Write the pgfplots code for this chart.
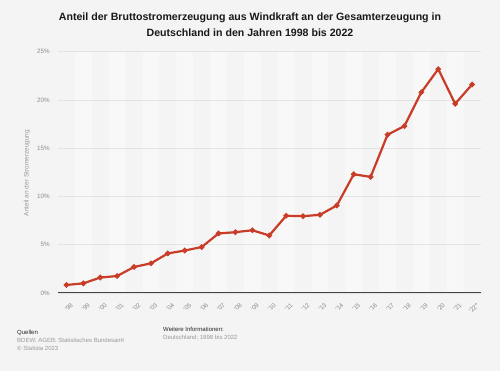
\documentclass[border=0pt]{standalone}
\usepackage{fontspec}
\setmainfont{Liberation Sans}
\usepackage{pgfplots}
\pgfplotsset{compat=1.18}
\definecolor{bgcol}{HTML}{F4F4F4}
\definecolor{bandcol}{HTML}{F8F8F8}
\definecolor{gridcol}{HTML}{E3E3E3}
\definecolor{linecol}{HTML}{C83C28}
\definecolor{axiscol}{HTML}{444444}
\definecolor{ticktext}{HTML}{8C8C8C}
\definecolor{foottext}{HTML}{999999}
\pagecolor{bgcol}
\begin{document}
\begin{tikzpicture}
\path (0pt,0pt) rectangle (500pt,371pt);
\node[anchor=base, inner sep=0pt, font=\bfseries\fontsize{10.6}{12}\selectfont, text=black!90] at (250pt,350.5pt) {Anteil der Bruttostromerzeugung aus Windkraft an der Gesamterzeugung in};
\node[anchor=base, inner sep=0pt, font=\bfseries\fontsize{10.6}{12}\selectfont, text=black!90] at (250pt,334.5pt) {Deutschland in den Jahren 1998 bis 2022};
\node[rotate=90, inner sep=0pt, font=\fontsize{6.5}{7}\selectfont, text=foottext] at (27pt,198pt) {Anteil an der Stromerzeugung};
\node[anchor=base west, inner sep=0pt, font=\fontsize{6}{7}\selectfont, text=black!85] at (17pt,36.5pt) {Quellen};
\node[anchor=base west, inner sep=0pt, font=\fontsize{6}{7}\selectfont, text=foottext] at (17pt,28pt) {BDEW; AGEB; Statistisches Bundesamt};
\node[anchor=base west, inner sep=0pt, font=\fontsize{6}{7}\selectfont, text=foottext] at (17pt,20pt) {\textcopyright{} Statista 2023};
\node[anchor=base west, inner sep=0pt, font=\fontsize{6}{7}\selectfont, text=black!85] at (163pt,39pt) {Weitere Informationen:};
\node[anchor=base west, inner sep=0pt, font=\fontsize{6}{7}\selectfont, text=foottext] at (163pt,31pt) {Deutschland; 1998 bis 2022};
\begin{axis}[
  set layers,
  at={(58pt,78pt)}, anchor=south west,
  width=422.5pt, height=241.3pt, scale only axis,
  xmin=-0.5, xmax=24.5, ymin=0, ymax=25,
  axis line style={draw=none},
  major tick length=0pt,
  ytick={0,5,10,15,20,25},
  yticklabels={0\%,5\%,10\%,15\%,20\%,25\%},
  ymajorgrids, grid style={gridcol, line width=0.7pt},
  xtick={0,...,24},
  xticklabels={'98,'99,'00,'01,'02,'03,'04,'05,'06,'07,'08,'09,'10,'11,'12,'13,'14,'15,'16,'17,'18,'19,'20,'21,'22*},
  xticklabel style={rotate=45, anchor=north east, font=\fontsize{6.3}{7}\selectfont, text=ticktext, xshift=-3.5pt, yshift=-9pt, inner sep=0.5pt},
  yticklabel style={anchor=east, font=\fontsize{6.3}{7}\selectfont, text=ticktext, xshift=-8pt, inner sep=0pt},
  clip=false,
]
\addplot[ybar interval, draw=none, fill=bandcol, on layer=axis background] coordinates {
(0.5,25)(1.5,0)(2.5,25)(3.5,0)(4.5,25)(5.5,0)(6.5,25)(7.5,0)(8.5,25)(9.5,0)(10.5,25)(11.5,0)(12.5,25)(13.5,0)(14.5,25)(15.5,0)(16.5,25)(17.5,0)(18.5,25)(19.5,0)(20.5,25)(21.5,0)(22.5,25)(23.5,0)};
\addplot[color=linecol, line width=2.2pt, mark=*, mark size=1.5pt, mark options={solid, fill=linecol}] coordinates {
(0,0.83)(1,1.0)(2,1.6)(3,1.76)(4,2.7)(5,3.07)(6,4.1)(7,4.4)(8,4.76)(9,6.17)(10,6.3)(11,6.5)(12,5.96)(13,8.0)(14,7.96)(15,8.1)(16,9.07)(17,12.3)(18,12.03)(19,16.4)(20,17.3)(21,20.8)(22,23.2)(23,19.6)(24,21.6)};
\end{axis}
\draw[draw=axiscol, line width=1pt] (58pt,78pt) -- (480.5pt,78pt);
\end{tikzpicture}
\end{document}
